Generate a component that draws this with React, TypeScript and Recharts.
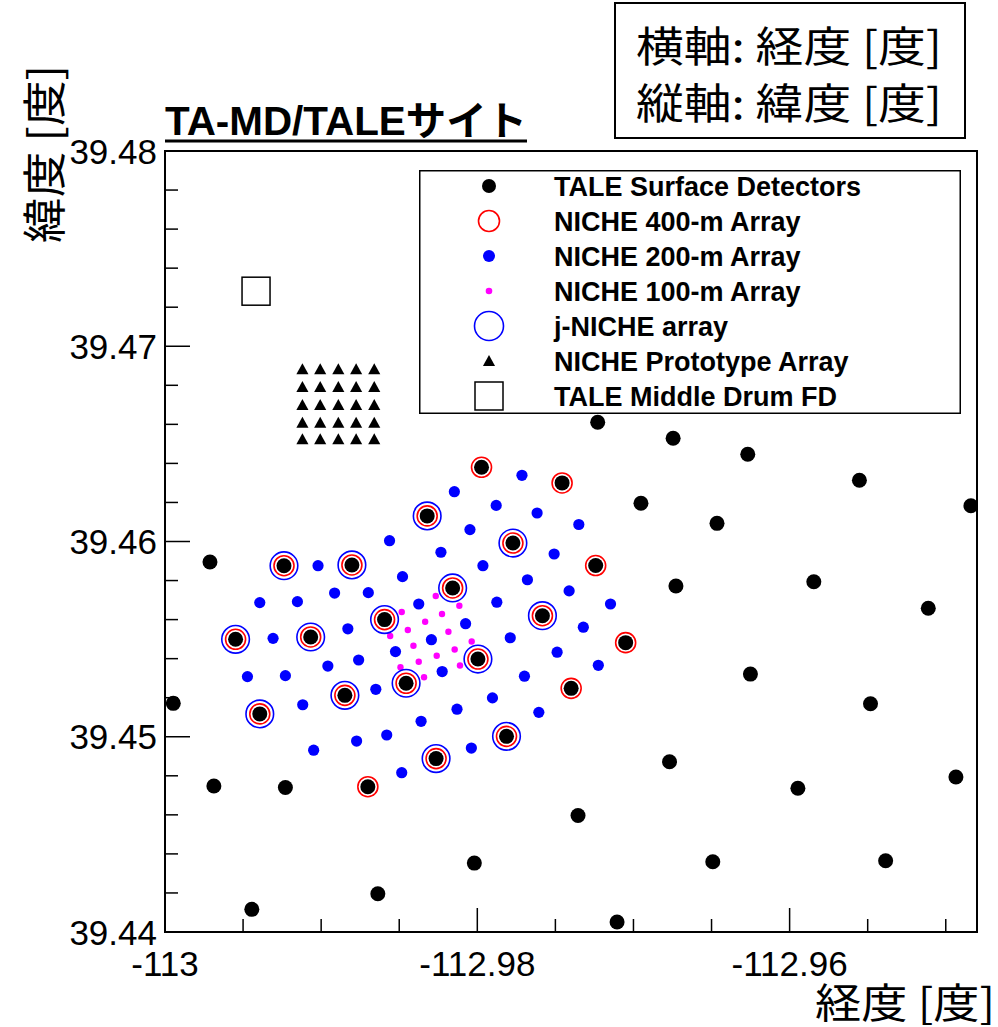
import React from "react";
import { ScatterChart, Scatter, XAxis, YAxis, ReferenceArea, Legend } from "recharts";

// longitude / latitude
const taleOnly: [number, number][] = [
  [-112.99712, 39.45895], [-112.99947, 39.45171], [-112.99687, 39.44748],
  [-112.99229, 39.4474], [-112.99444, 39.44116], [-112.98637, 39.44196],
  [-112.98019, 39.44353], [-112.97355, 39.44597], [-112.97105, 39.44051],
  [-112.97229, 39.46611], [-112.96746, 39.46529], [-112.96268, 39.46447],
  [-112.95553, 39.46314], [-112.96952, 39.46196], [-112.96465, 39.46093],
  [-112.94839, 39.46183], [-112.96728, 39.45772], [-112.95845, 39.45794],
  [-112.95112, 39.45658], [-112.96251, 39.45321], [-112.95482, 39.45169],
  [-112.96769, 39.44872], [-112.95947, 39.44736], [-112.94935, 39.44794],
  [-112.96492, 39.4436], [-112.95385, 39.44365],
];

const niche400: [number, number][] = [
  [-112.97973, 39.4638], [-112.97457, 39.463], [-112.97242, 39.45877],
  [-112.9705, 39.45482], [-112.97399, 39.45248], [-112.98701, 39.44744],
  [-112.98321, 39.46131], [-112.99238, 39.45876], [-112.98803, 39.4588],
  [-112.98158, 39.45762], [-112.98594, 39.456], [-112.99548, 39.45499],
  [-112.99067, 39.45511], [-112.97996, 39.45398], [-112.98456, 39.45274],
  [-112.98848, 39.45212], [-112.99393, 39.45117], [-112.98264, 39.44888],
  [-112.97772, 39.45992], [-112.97583, 39.4562], [-112.97813, 39.45002],
];

const jNiche: [number, number][] = [
  [-112.98321, 39.46131], [-112.99238, 39.45876], [-112.98803, 39.4588],
  [-112.98158, 39.45762], [-112.98594, 39.456], [-112.99548, 39.45499],
  [-112.99067, 39.45511], [-112.97996, 39.45398], [-112.98456, 39.45274],
  [-112.98848, 39.45212], [-112.99393, 39.45117], [-112.98264, 39.44888],
  [-112.97772, 39.45992], [-112.97583, 39.4562], [-112.97813, 39.45002],
];

const niche200: [number, number][] = [
  [-112.98147, 39.46255], [-112.97879, 39.46185], [-112.98562, 39.46004],
  [-112.98047, 39.46061], [-112.98233, 39.45945], [-112.97964, 39.45876],
  [-112.9902, 39.45876], [-112.98479, 39.4582], [-112.98914, 39.45736],
  [-112.98698, 39.45738], [-112.99393, 39.45687], [-112.99152, 39.45692],
  [-112.98375, 39.4568], [-112.97875, 39.45689], [-112.98829, 39.45553],
  [-112.99308, 39.45504], [-112.98075, 39.45579], [-112.98294, 39.45497],
  [-112.98524, 39.45436], [-112.9876, 39.45393], [-112.98957, 39.45362],
  [-112.99472, 39.45308], [-112.99229, 39.45313], [-112.98225, 39.45334],
  [-112.9865, 39.45243], [-112.97903, 39.45199], [-112.99118, 39.45164],
  [-112.9813, 39.45141], [-112.9836, 39.45079], [-112.9858, 39.45009],
  [-112.98773, 39.44978], [-112.98038, 39.44942], [-112.99048, 39.44931],
  [-112.98484, 39.44816], [-112.97714, 39.46339], [-112.97617, 39.46146],
  [-112.9735, 39.46087], [-112.97508, 39.45936], [-112.97679, 39.45804],
  [-112.97412, 39.45747], [-112.97147, 39.4568], [-112.97321, 39.45561],
  [-112.97789, 39.45507], [-112.97489, 39.45433], [-112.97225, 39.45366],
  [-112.97698, 39.4531], [-112.97606, 39.45125],
];

const niche100: [number, number][] = [
  [-112.98266, 39.45721], [-112.98115, 39.45671], [-112.98484, 39.45639],
  [-112.98226, 39.45629], [-112.98334, 39.45589], [-112.98445, 39.45547],
  [-112.98185, 39.45538], [-112.98558, 39.45516], [-112.98036, 39.45488],
  [-112.98409, 39.45466], [-112.98145, 39.45447], [-112.9826, 39.45415],
  [-112.98375, 39.45384], [-112.98492, 39.45356], [-112.98111, 39.45365],
  [-112.98341, 39.45305],
];

const prototype: [number, number][] = [
  [-112.9912, 39.46882], [-112.99006, 39.46882], [-112.9889, 39.46882], [-112.98776, 39.46882], [-112.9866, 39.46882],
  [-112.9912, 39.46791], [-112.99006, 39.46791], [-112.9889, 39.46791], [-112.98776, 39.46791], [-112.9866, 39.46791],
  [-112.9912, 39.46699], [-112.99006, 39.46699], [-112.9889, 39.46699], [-112.98776, 39.46699], [-112.9866, 39.46699],
  [-112.9912, 39.46608], [-112.99006, 39.46608], [-112.9889, 39.46608], [-112.98776, 39.46608], [-112.9866, 39.46608],
  [-112.9912, 39.46523], [-112.99006, 39.46523], [-112.9889, 39.46523], [-112.98776, 39.46523], [-112.9866, 39.46523],
];

const mdFD: [number, number][] = [[-112.99417, 39.47282]];

const xTicks = [-113, -112.995, -112.99, -112.985, -112.98, -112.975, -112.97, -112.965, -112.96, -112.955, -112.95];
const xMajor = [-113, -112.98, -112.96];
const yTicks = [
  39.44, 39.442, 39.444, 39.446, 39.448, 39.45, 39.452, 39.454, 39.456, 39.458, 39.46,
  39.462, 39.464, 39.466, 39.468, 39.47, 39.472, 39.474, 39.476, 39.478, 39.48,
];
const yMajor = [39.44, 39.45, 39.46, 39.47, 39.48];

const legendLabels = [
  "TALE Surface Detectors",
  "NICHE 400-m Array",
  "NICHE 200-m Array",
  "NICHE 100-m Array",
  "j-NICHE array",
  "NICHE Prototype Array",
  "TALE Middle Drum FD",
];

const SANS = "'Liberation Sans', Arial, Helvetica, sans-serif";
const CJK = "'Noto Sans CJK JP', 'Noto Sans CJK SC', sans-serif";

const pts = (a: [number, number][]) => a.map(([x, y]) => ({ x, y }));
const isMajor = (v: number, m: number[]) => m.some((t) => Math.abs(t - v) < 1e-7);

const dot = (r: number, fill: string) => (p: any) => <circle cx={p.cx} cy={p.cy} r={r} fill={fill} />;
const ring = (r: number, stroke: string) => (p: any) => (
  <circle cx={p.cx} cy={p.cy} r={r} fill="none" stroke={stroke} strokeWidth={1.6} />
);
const tri = (s: number) => (p: any) => (
  <polygon
    points={`${p.cx},${p.cy - s * 0.55} ${p.cx + s * 0.55},${p.cy + s * 0.45} ${p.cx - s * 0.55},${p.cy + s * 0.45}`}
    fill="#000"
  />
);
const square = (s: number) => (p: any) => (
  <rect x={p.cx - s / 2} y={p.cy - s / 2} width={s} height={s} fill="none" stroke="#000" strokeWidth={1.5} />
);

const shapes = [
  dot(7.5, "#000"),
  ring(10, "#ff0000"),
  dot(5.6, "#0000ff"),
  dot(3.2, "#ff00ff"),
  ring(13.8, "#0000ff"),
  tri(11),
  square(28),
];
const legendShapes = [
  dot(7, "#000"),
  ring(10.5, "#ff0000"),
  dot(6, "#0000ff"),
  dot(3.3, "#ff00ff"),
  ring(14.5, "#0000ff"),
  tri(11),
  square(28),
];

function XTick(props: any) {
  const { x, y, payload } = props;
  const major = isMajor(payload.value, xMajor);
  return (
    <g>
      <line x1={x} x2={x} y1={y} y2={y - (major ? 24 : 13)} stroke="#000" strokeWidth={1.5} />
      {major && (
        <text x={x} y={y + 44} textAnchor="middle" fontSize={35} fontFamily={SANS} fill="#000">
          {String(payload.value)}
        </text>
      )}
    </g>
  );
}

function YTick(props: any) {
  const { x, y, payload } = props;
  const major = isMajor(payload.value, yMajor);
  return (
    <g>
      <line x1={x} x2={x + (major ? 25 : 13)} y1={y} y2={y} stroke="#000" strokeWidth={1.5} />
      {major && (
        <text x={x - 8} y={y + 12.5} textAnchor="end" fontSize={35} fontFamily={SANS} fill="#000">
          {String(payload.value)}
        </text>
      )}
    </g>
  );
}

function LegendBox() {
  return (
    <svg width={542} height={244} style={{ display: "block" }}>
      <rect x={0.75} y={0.75} width={540.5} height={242.5} fill="#fff" stroke="#000" strokeWidth={1.5} />
      {legendLabels.map((label, i) => {
        const cy = 16 + i * 35;
        return (
          <g key={label}>
            {legendShapes[i]({ cx: 70, cy })}
            <text x={135} y={cy + 10} fontSize={27} fontWeight="bold" fontFamily={SANS} fill="#000">
              {label}
            </text>
          </g>
        );
      })}
    </svg>
  );
}

export default function App() {
  const series = [
    { name: legendLabels[0], data: pts([...taleOnly, ...niche400]) },
    { name: legendLabels[1], data: pts(niche400) },
    { name: legendLabels[2], data: pts(niche200) },
    { name: legendLabels[3], data: pts(niche100) },
    { name: legendLabels[4], data: pts(jNiche) },
    { name: legendLabels[5], data: pts(prototype) },
    { name: legendLabels[6], data: pts(mdFD) },
  ];

  return (
    <div style={{ position: "absolute", left: 0, top: 0, width: 998, height: 1027, background: "#fff" }}>
      <ScatterChart width={998} height={1027} margin={{ top: 151, right: 21, bottom: 55, left: 105 }}>
        <XAxis
          type="number"
          dataKey="x"
          domain={[-113, -112.948]}
          allowDataOverflow
          ticks={xTicks}
          interval={0}
          height={40}
          tickSize={0}
          tickMargin={0}
          tickLine={false}
          axisLine={false}
          tick={<XTick />}
        />
        <YAxis
          type="number"
          dataKey="y"
          domain={[39.44, 39.48]}
          allowDataOverflow
          ticks={yTicks}
          interval={0}
          width={60}
          tickSize={0}
          tickMargin={0}
          tickLine={false}
          axisLine={false}
          tick={<YTick />}
        />
        <ReferenceArea
          x1={-113}
          x2={-112.948}
          y1={39.44}
          y2={39.48}
          fill="none"
          fillOpacity={0}
          stroke="#000"
          strokeWidth={2}
          ifOverflow="visible"
        />
        {series.map((s, i) => (
          <Scatter key={s.name} name={s.name} data={s.data} shape={shapes[i]} isAnimationActive={false} />
        ))}
        <Legend
          layout="vertical"
          align="center"
          verticalAlign="middle"
          content={() => <LegendBox />}
          wrapperStyle={{ left: 419, top: 170, width: 542, height: 244 }}
        />
      </ScatterChart>

      <svg width={998} height={1027} style={{ position: "absolute", left: 0, top: 0, pointerEvents: "none" }}>
        <text x={165} y={135} fontSize={40} fontWeight="bold" fontFamily={`${SANS.split(",")[0]}, ${CJK}`} textLength={362} lengthAdjust="spacingAndGlyphs">
          TA-MD/TALEサイト
        </text>
        <line x1={165} x2={527} y1={141} y2={141} stroke="#000" strokeWidth={3} />

        <rect x={615} y={3} width={350} height={135} fill="#fff" stroke="#000" strokeWidth={2} />
        <text x={636} y={62} fontSize={42} fontFamily={CJK} textLength={306} lengthAdjust="spacingAndGlyphs">
          横軸: 経度 [度]
        </text>
        <text x={636} y={119} fontSize={42} fontFamily={CJK} textLength={306} lengthAdjust="spacingAndGlyphs">
          縦軸: 緯度 [度]
        </text>

        <text x={815} y={1018} fontSize={41} fontFamily={CJK} textLength={180} lengthAdjust="spacingAndGlyphs">
          経度 [度]
        </text>
        <text
          x={0}
          y={0}
          fontSize={44}
          fontFamily={CJK}
          textLength={178}
          lengthAdjust="spacingAndGlyphs"
          transform="translate(61,243) rotate(-90)"
        >
          緯度 [度]
        </text>
      </svg>
    </div>
  );
}
